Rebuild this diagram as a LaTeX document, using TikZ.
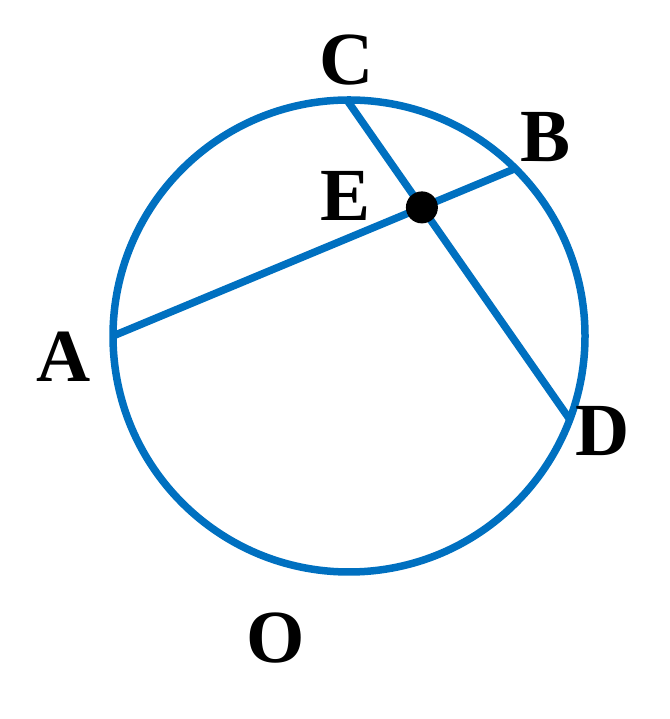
\documentclass[tikz,border=0pt]{standalone}
\usepackage{fontspec}
\setmainfont{Liberation Serif}
\definecolor{cblue}{RGB}{0,112,192}
\tikzset{
  geo/.style={draw=cblue,line width=7.5pt},
  lbl/.style={inner sep=0pt,font=\fontsize{75}{80}\selectfont\bfseries}
}
\begin{document}
\begin{tikzpicture}[x=1pt,y=1pt]
\useasboundingbox (0,0) rectangle (669,719);
\coordinate (ctr) at (349,383);
\coordinate (A) at ([shift={(180:236)}]ctr);
\coordinate (B) at ([shift={(45.2:236)}]ctr);
\coordinate (C) at ([shift={(90.5:236)}]ctr);
\coordinate (D) at ([shift={(-20.7:236)}]ctr);
\draw[geo] (ctr) circle[radius=236];
\draw[geo] (A) -- (B);
\draw[geo] (C) -- (D);
\coordinate (E) at (intersection of A--B and C--D);
\fill (E) circle[radius=16];
\node[lbl] (lC) at (347,659) {C};
\node[lbl] (lB) at (546,582) {B};
\node[lbl] (lE) at (346,523) {E};
\node[lbl] (lA) at (64,362) {A};
\node[lbl] (lD) at (603,288) {D};
\node[lbl] (lO) at (276,81) {O};
\end{tikzpicture}
\end{document}
